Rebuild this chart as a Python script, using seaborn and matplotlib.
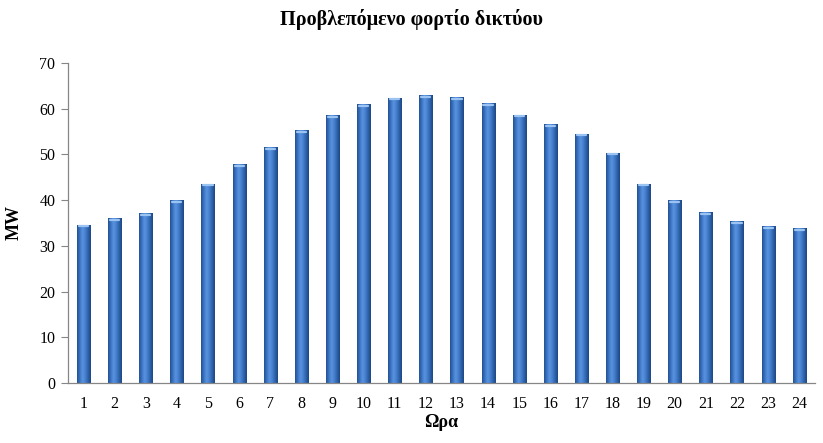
import numpy as np
import pandas as pd
import matplotlib
matplotlib.use("Agg")
import matplotlib.pyplot as plt
import seaborn as sns
from matplotlib.colors import LinearSegmentedColormap

hours = [str(h) for h in range(1, 25)]
load_mw = [34.6, 36.0, 37.1, 40.0, 43.6, 47.8, 51.6, 55.3, 58.6, 61.0, 62.4, 63.0,
           62.5, 61.2, 58.7, 56.6, 54.5, 50.4, 43.6, 40.0, 37.3, 35.4, 34.3, 33.8]

title = "Προβλεπόμενο φορτίο δικτύου"
xlabel = "Ωρα"
ylabel = "MW"

df = pd.DataFrame({"hour": hours, "load": load_mw})

sns.set_theme(style="white")
plt.rcParams['font.family'] = ['Liberation Serif', 'DejaVu Serif']

fig = plt.figure(figsize=(8.23, 4.43), dpi=100)
ax = fig.add_axes([0.0826, 0.1354, 0.9074, 0.7226])

sns.barplot(data=df, x="hour", y="load", color="#3B75C4", width=0.42,
            saturation=1, ax=ax, linewidth=0)

# cylinder-like shading
cmap = LinearSegmentedColormap.from_list(
    "cyl", ["#22508f", "#3b74c4", "#5a94df", "#4680cf", "#2e62aa", "#1d4784"])
grad = np.linspace(0, 1, 64).reshape(1, -1)
for p in list(ax.patches):
    x0, y0 = p.get_x(), p.get_y()
    w, h = p.get_width(), p.get_height()
    im = ax.imshow(grad, extent=[x0, x0 + w, y0, y0 + h], aspect="auto",
                   cmap=cmap, zorder=p.get_zorder() + 0.1, interpolation="bicubic")
    im.set_clip_path(p)
    ax.plot([x0 + w * 0.15, x0 + w * 0.85], [y0 + h - 0.35, y0 + h - 0.35],
            color="#9cc4f2", lw=1.6, solid_capstyle="round",
            zorder=p.get_zorder() + 0.2)

ax.set_xlim(-0.5, 23.5)
ax.set_ylim(0, 70)
ax.set_yticks(range(0, 71, 10))
ax.set_xticks(range(24))
ax.set_xticklabels(hours)
ax.set_xticks(np.arange(-0.5, 24.0, 1.0), minor=True)
ax.tick_params(axis="x", which="major", length=0, pad=9, labelsize=11.5, labelcolor="black")
ax.tick_params(axis="x", which="minor", length=5, width=0.8, color="#868686", direction="out")
ax.tick_params(axis="y", which="major", length=5, width=0.8, color="#868686",
               direction="out", labelsize=11.5, pad=4, labelcolor="black")
ax.tick_params(left=True, bottom=True)

for s in ["top", "right"]:
    ax.spines[s].set_visible(False)
for s in ["left", "bottom"]:
    ax.spines[s].set_visible(True)
    ax.spines[s].set_color("#868686")
    ax.spines[s].set_linewidth(0.9)

ax.grid(False)
ax.set_xlabel(xlabel, fontsize=13, fontweight="bold", labelpad=2, color="black")
ax.set_ylabel(ylabel, fontsize=13, fontweight="bold", labelpad=12, color="black")
fig.text(0.5, 1 - 20 / 443, title, ha="center", va="center",
         fontsize=14.5, fontweight="bold", color="black")

fig.savefig("out.png", dpi=100, facecolor="white")
